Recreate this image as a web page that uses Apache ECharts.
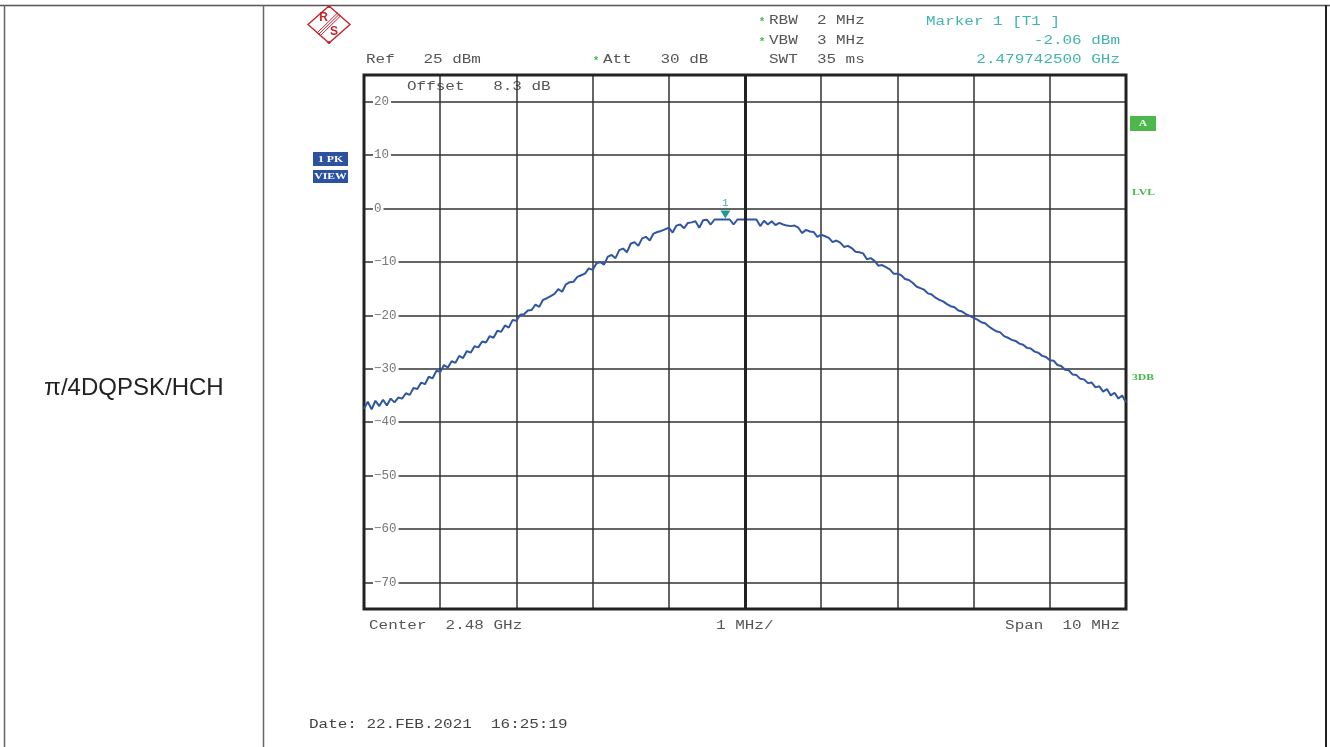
<!DOCTYPE html>
<html>
<head>
<meta charset="utf-8">
<script src="https://cdn.jsdelivr.net/npm/echarts@6/dist/echarts.min.js"></script>
<style>html,body{margin:0;padding:0;background:#fff;}#c{width:1330px;height:747px;}</style>
</head>
<body>
<div id="c"></div>
<script>
// ---- data ----
const startMHz = -5;      // offset from centre 2.48 GHz
const stepMHz = 0.05;
const levels_dBm = [
-37.5,-36.2,-37.6,-36.0,-37.0,-35.8,-36.9,-35.6,-36.3,-35.4,
-35.6,-34.6,-34.9,-33.6,-33.8,-32.6,-32.9,-31.5,-31.8,-30.4,
-30.6,-29.3,-29.8,-28.6,-28.9,-27.6,-28.0,-26.7,-27.0,-25.8,
-26.0,-24.9,-25.1,-23.9,-24.2,-22.9,-23.1,-21.9,-22.3,-20.9,
-21.0,-19.9,-19.8,-19.1,-19.0,-18.0,-18.4,-17.1,-16.8,-16.4,
-16.0,-15.1,-15.6,-14.2,-13.8,-13.7,-12.8,-12.5,-12.2,-11.2,
-11.5,-10.3,-10.0,-10.5,-9.0,-8.7,-9.3,-7.8,-7.5,-8.2,
-6.6,-6.3,-7.0,-5.6,-5.3,-6.0,-4.7,-4.4,-4.2,-3.9,
-3.6,-4.5,-3.2,-3.0,-3.7,-2.7,-2.6,-2.4,-3.6,-2.2,
-2.1,-3.0,-2.06,-2.06,-2.06,-2.06,-2.06,-3.0,-2.06,-2.06,
-2.06,-2.06,-2.06,-2.06,-3.3,-2.3,-3.0,-2.4,-3.1,-2.7,
-3.0,-3.2,-3.3,-3.2,-3.6,-4.6,-4.0,-4.3,-4.4,-5.3,
-4.9,-5.2,-5.5,-6.3,-6.0,-6.4,-7.2,-7.0,-7.4,-8.1,
-8.2,-8.4,-9.5,-9.3,-9.8,-10.7,-10.6,-11.0,-11.4,-12.2,
-12.2,-12.5,-13.2,-13.4,-13.9,-14.6,-14.9,-15.2,-15.9,-16.1,
-16.7,-17.1,-17.4,-17.9,-18.3,-18.5,-19.1,-19.3,-19.8,-20.1,
-20.5,-20.8,-21.3,-21.5,-22.1,-22.6,-23.0,-23.2,-23.9,-24.2,
-24.6,-24.8,-25.3,-25.5,-26.1,-26.2,-26.8,-27.0,-27.6,-27.8,
-28.4,-28.5,-29.3,-29.5,-30.2,-30.3,-31.1,-31.2,-31.9,-32.0,
-32.7,-32.6,-33.5,-33.3,-34.3,-33.8,-35.0,-34.5,-35.6,-35.0,
-36.3
];
const marker = [-0.2575, -2.06];   // 2.479742500 GHz, -2.06 dBm
const yLabels = [20, 10, 0, -10, -20, -30, -40, -50, -60, -70];

const traceData = levels_dBm.map((v, i) => [startMHz + i * stepMHz, v]);

// ---- helpers for annotation text ----
const MONO = "'Liberation Mono','DejaVu Sans Mono',monospace";
const GRAY = '#555';
const TEAL = '#3fb5ad';
const GREEN = '#46b94c';
function mono(x, y, text, fill, align, size) {
  return {type: 'text', x: x, y: y, scaleX: 1.33, silent: true,
    style: {text: text, fill: fill || GRAY, font: (size || 12) + 'px ' + MONO,
      align: align || 'left', verticalAlign: 'middle'}};
}
function star(x, y) {
  return {type: 'text', x: x, y: y, silent: true,
    style: {text: '*', fill: GREEN, font: 'bold 11px ' + MONO, align: 'center', verticalAlign: 'middle'}};
}
function hline(x1, x2, y, c, w) {
  return {type: 'line', silent: true, shape: {x1: x1, y1: y, x2: x2, y2: y}, style: {stroke: c, lineWidth: w}};
}
function vline(x, y1, y2, c, w) {
  return {type: 'line', silent: true, shape: {x1: x, y1: y1, x2: x, y2: y2}, style: {stroke: c, lineWidth: w}};
}
function box(x, y, w, h, fill, text, tsize) {
  return {type: 'group', x: x, y: y, silent: true, children: [
    {type: 'rect', shape: {x: 0, y: 0, width: w, height: h}, style: {fill: fill}},
    {type: 'text', x: w / 2, y: h / 2 + 0.5, scaleX: 1.3,
      style: {text: text, fill: '#fff', font: 'bold ' + (tsize || 9) + 'px "Liberation Serif",serif', align: 'center', verticalAlign: 'middle'}}
  ]};
}

const RED = '#c4262e';
const logo = {type: 'group', x: 329, y: 24.5, silent: true, children: [
  {type: 'polygon', shape: {points: [[0, -18.5], [21, 0], [0, 18.5], [-21, 0]]}, style: {fill: 'none', stroke: RED, lineWidth: 1.4}},
  {type: 'line', shape: {x1: 9, y1: -12, x2: -12, y2: 8.5}, style: {stroke: RED, lineWidth: 1}},
  {type: 'line', shape: {x1: 10.5, y1: -10.5, x2: -10.5, y2: 10}, style: {stroke: RED, lineWidth: 1}},
  {type: 'line', shape: {x1: 12, y1: -9, x2: -9, y2: 11.5}, style: {stroke: RED, lineWidth: 1}},
  {type: 'circle', shape: {cx: 0, cy: -18, r: 1.6}, style: {fill: RED}},
  {type: 'circle', shape: {cx: 0, cy: 18, r: 1.6}, style: {fill: RED}},
  {type: 'text', x: -5.5, y: -6.5, style: {text: 'R', fill: RED, font: 'bold 12px "Liberation Sans",sans-serif', align: 'center', verticalAlign: 'middle'}},
  {type: 'text', x: 5, y: 7.5, style: {text: 'S', fill: RED, font: 'bold 12px "Liberation Sans",sans-serif', align: 'center', verticalAlign: 'middle'}}
]};

const graphics = [
  // table frame
  hline(0, 1330, 5.5, '#555', 1.5),
  vline(4.5, 5, 747, '#666', 1.5),
  vline(263.5, 5, 747, '#666', 1.5),
  vline(1326, 5, 747, '#222', 2),
  {type: 'text', x: 134, y: 388, silent: true,
    style: {text: 'π/4DQPSK/HCH', fill: '#222', font: '24px "Liberation Sans",Arial,sans-serif', align: 'center', verticalAlign: 'middle'}},
  logo,
  // header annotations
  star(762, 22), mono(769, 21, 'RBW  2 MHz'),
  star(762, 42), mono(769, 41, 'VBW  3 MHz'),
  mono(769, 60, 'SWT  35 ms'),
  mono(366, 60, 'Ref   25 dBm'),
  star(596, 61), mono(603, 60, 'Att   30 dB'),
  mono(926, 22, 'Marker 1 [T1 ]', TEAL),
  mono(1120, 41, '-2.06 dBm', TEAL, 'right'),
  mono(1120, 60, '2.479742500 GHz', TEAL, 'right'),
  mono(407, 87, 'Offset   8.3 dB'),
  // footer annotations
  mono(369, 626, 'Center  2.48 GHz'),
  mono(716, 626, '1 MHz/'),
  mono(1120, 626, 'Span  10 MHz', GRAY, 'right'),
  mono(309, 725, 'Date: 22.FEB.2021  16:25:19', '#444'),
  // side boxes
  box(313, 152, 35, 14, '#2d52a0', '1 PK'),
  box(313, 170, 35, 13, '#2d52a0', 'VIEW'),
  box(1130, 116, 26, 15, '#4cb84c', 'A'),
  {type: 'text', x: 1132, y: 193, scaleX: 1.3, silent: true, style: {text: 'LVL', fill: GREEN, font: 'bold 9px "Liberation Serif",serif', verticalAlign: 'middle'}},
  {type: 'text', x: 1132, y: 378, scaleX: 1.3, silent: true, style: {text: '3DB', fill: GREEN, font: 'bold 9px "Liberation Serif",serif', verticalAlign: 'middle'}}
];

const chart = echarts.init(document.getElementById('c'), null, {renderer: 'canvas'});
chart.setOption({
  animation: false,
  backgroundColor: '#fff',
  grid: {left: 364, top: 75, width: 762, height: 534, show: true, borderColor: '#222', borderWidth: 3, backgroundColor: 'transparent', z: 3},
  xAxis: {
    type: 'value', min: -5, max: 5, interval: 1,
    axisLine: {show: false}, axisTick: {show: false}, axisLabel: {show: false},
    splitLine: {show: true, showMinLine: true, showMaxLine: true, lineStyle: {color: '#333', width: 1.5}}
  },
  yAxis: {
    type: 'value', min: -75, max: 25, interval: 5,
    axisLine: {show: false}, axisTick: {show: false},
    axisLabel: {
      inside: true, margin: 9, color: '#777', fontFamily: MONO, fontSize: 12.5,
      backgroundColor: '#fff', padding: [0, 2, 0, 1], align: 'left',
      formatter: function (v) { return yLabels.indexOf(v) >= 0 ? String(v).replace('-', '\u2212') : ''; }
    },
    splitLine: {show: true, showMinLine: true, showMaxLine: true, lineStyle: {color: ['rgba(0,0,0,0)', '#333'], width: 1.5}}
  },
  series: [{
    type: 'line', data: traceData, showSymbol: false, symbol: 'none', silent: true,
    lineStyle: {color: '#2f55a4', width: 2}, z: 4,
    markLine: {
      silent: true, symbol: 'none', label: {show: false},
      lineStyle: {color: '#222', width: 3, type: 'solid'},
      data: [{xAxis: 0}]
    },
    markPoint: {
      silent: true,
      symbol: 'triangle', symbolSize: [10, 8], symbolRotate: 180, symbolOffset: [0, -5],
      itemStyle: {color: '#1f9c90'},
      label: {show: true, position: 'top', distance: 2, formatter: '1', color: TEAL, fontFamily: MONO, fontSize: 11},
      data: [{coord: marker}]
    }
  }],
  graphic: graphics
});
</script>
</body>
</html>
